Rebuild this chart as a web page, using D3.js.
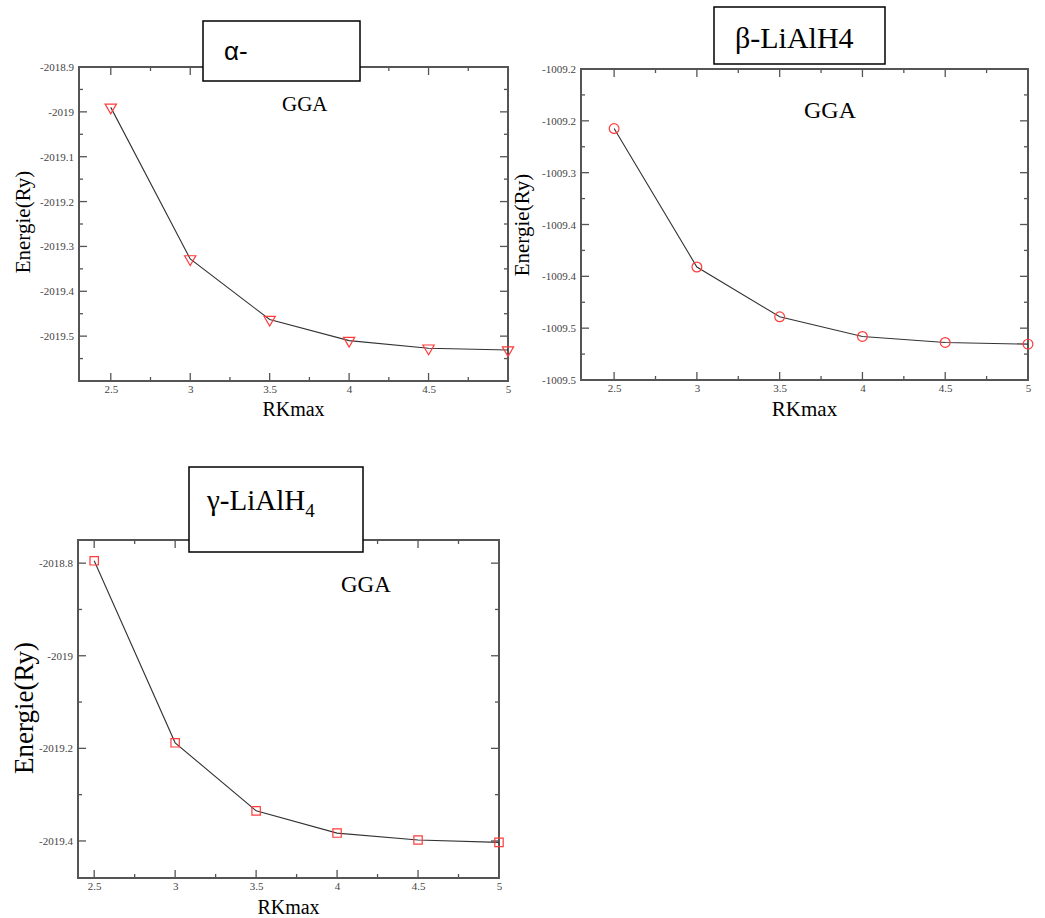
<!DOCTYPE html>
<html>
<head>
<meta charset="utf-8">
<script src="https://cdn.jsdelivr.net/npm/d3@7"></script>
<style>
  body { margin: 0; background: #fff; }
  svg { display: block; }
  .tick text { font-family: "Liberation Serif", "DejaVu Serif", serif; fill: #444; }
</style>
</head>
<body>
<svg id="chart" width="1045" height="918"></svg>
<script>
// RKmax values shared by all three panels
const rkmax = [2.5, 3, 3.5, 4, 4.5, 5];
const xTicks = [2.5, 3, 3.5, 4, 4.5, 5];
const xTickLabels = ["2.5", "3", "3.5", "4", "4.5", "5"];

// alpha-LiAlH4 energies (Ry)
const alphaEnergy = [-2018.99, -2019.328, -2019.463, -2019.51, -2019.527, -2019.531];
const alphaTicks = [-2018.9, -2019.0, -2019.1, -2019.2, -2019.3, -2019.4, -2019.5];
const alphaTickLabels = ["-2018.9", "-2019", "-2019.1", "-2019.2", "-2019.3", "-2019.4", "-2019.5"];

// beta-LiAlH4 energies (Ry)
const betaEnergy = [-1009.2574, -1009.391, -1009.439, -1009.458, -1009.4638, -1009.4654];
const betaTicks = [-1009.2, -1009.25, -1009.3, -1009.35, -1009.4, -1009.45, -1009.5];
const betaTickLabels = ["-1009.2", "-1009.2", "-1009.3", "-1009.4", "-1009.4", "-1009.5", "-1009.5"];

// gamma-LiAlH4 energies (Ry)
const gammaEnergy = [-2018.795, -2019.188, -2019.335, -2019.383, -2019.398, -2019.403];
const gammaTicks = [-2018.8, -2019.0, -2019.2, -2019.4];
const gammaTickLabels = ["-2018.8", "-2019", "-2019.2", "-2019.4"];

const svg = d3.select("#chart");
const serif = "'Liberation Serif', 'DejaVu Serif', serif";

function drawPanel(p) {
  const x = d3.scaleLinear().domain(p.xDomain).range([p.left, p.right]);
  const y = d3.scaleLinear().domain(p.yDomain).range([p.bottom, p.top]);
  const g = svg.append("g");

  // minor + major ticks, inward on all four sides
  const minorX = d3.range(Math.ceil(p.xDomain[0] * 4), Math.floor(p.xDomain[1] * 4) + 1).map((k) => k / 4);
  const yHalf = p.yStep / 2;
  const minorY = d3.range(Math.ceil(p.yDomain[0] / yHalf - 1e-6), Math.floor(p.yDomain[1] / yHalf + 1e-6) + 1).map((k) => k * yHalf);

  const tickG = g.append("g").attr("stroke", "#555").attr("stroke-width", 1.3);
  minorX.forEach((v) => {
    const major = xTicks.some((t) => Math.abs(t - v) < 1e-6);
    const len = major ? 8 : 4;
    if (x(v) <= p.left + 1 || x(v) >= p.right - 1) return;
    tickG.append("line").attr("x1", x(v)).attr("x2", x(v)).attr("y1", p.bottom).attr("y2", p.bottom - len);
    tickG.append("line").attr("x1", x(v)).attr("x2", x(v)).attr("y1", p.top).attr("y2", p.top + len);
  });
  minorY.forEach((v) => {
    if (y(v) <= p.top + 1 || y(v) >= p.bottom - 1) return;
    const major = p.yTicks.some((t) => Math.abs(t - v) < 1e-6);
    const len = major ? 8 : 4;
    tickG.append("line").attr("x1", p.left).attr("x2", p.left + len).attr("y1", y(v)).attr("y2", y(v));
    tickG.append("line").attr("x1", p.right).attr("x2", p.right - len).attr("y1", y(v)).attr("y2", y(v));
  });

  // axes for labels
  const xAxis = d3.axisBottom(x).tickValues(xTicks).tickSize(0).tickPadding(4)
    .tickFormat((d, i) => xTickLabels[i]);
  g.append("g").attr("transform", `translate(0,${p.bottom})`).call(xAxis)
    .call((a) => a.select(".domain").remove())
    .selectAll("text").attr("font-size", p.tickFont);

  const yAxis = d3.axisLeft(y).tickValues(p.yTicks).tickSize(0).tickPadding(5)
    .tickFormat((d, i) => p.yTickLabels[i]);
  g.append("g").attr("transform", `translate(${p.left},0)`).call(yAxis)
    .call((a) => a.select(".domain").remove())
    .selectAll("text").attr("font-size", p.tickFont);

  // frame
  g.append("rect")
    .attr("x", p.left).attr("y", p.top)
    .attr("width", p.right - p.left).attr("height", p.bottom - p.top)
    .attr("fill", "none").attr("stroke", "#555").attr("stroke-width", 2);

  // data line
  const line = d3.line().x((d, i) => x(rkmax[i])).y((d) => y(d));
  g.append("path").datum(p.values).attr("d", line)
    .attr("fill", "none").attr("stroke", "#333").attr("stroke-width", 1.1);

  // markers
  const sym = d3.symbol().type(p.symbol).size(p.symbolSize);
  g.append("g").selectAll("path").data(p.values).join("path")
    .attr("d", sym)
    .attr("transform", (d, i) => `translate(${x(rkmax[i])},${y(d)})${p.symbol === d3.symbolTriangle ? " rotate(180)" : ""}`)
    .attr("fill", "none").attr("stroke", "#ff3b3b").attr("stroke-width", 1.2);

  // annotation + axis titles
  g.append("text").attr("x", p.ggaX).attr("y", p.ggaY)
    .attr("font-family", serif).attr("font-size", p.ggaFont).text("GGA");
  g.append("text").attr("x", (p.left + p.right) / 2 + p.xLabelShift).attr("y", p.xLabelY)
    .attr("text-anchor", "middle").attr("font-family", serif).attr("font-size", p.xLabelFont).text("RKmax");
  g.append("text")
    .attr("transform", `translate(${p.yLabelX},${p.yLabelY}) rotate(-90)`)
    .attr("text-anchor", "middle").attr("font-family", serif).attr("font-size", p.yLabelFont).text("Energie(Ry)");

  // title box
  const b = p.box;
  g.append("rect").attr("x", b.x).attr("y", b.y).attr("width", b.w).attr("height", b.h)
    .attr("fill", "#fff").attr("stroke", "#000").attr("stroke-width", 1.5);
  const t = g.append("text").attr("x", b.tx).attr("y", b.ty)
    .attr("font-family", b.font).attr("font-size", b.size);
  t.append("tspan").text(b.text);
  if (b.sub) t.append("tspan").attr("font-size", b.size * 0.65).attr("dy", b.size * 0.25).text(b.sub);
}

drawPanel({
  left: 79, right: 508, top: 67, bottom: 381,
  xDomain: [2.3, 5], yDomain: [-2019.6, -2018.9],
  yTicks: alphaTicks, yTickLabels: alphaTickLabels, yStep: 0.1,
  values: alphaEnergy, symbol: d3.symbolTriangle, symbolSize: 55,
  tickFont: 11,
  ggaX: 282, ggaY: 111, ggaFont: 21,
  xLabelShift: 0, xLabelY: 416, xLabelFont: 20,
  yLabelX: 30, yLabelY: 222, yLabelFont: 21,
  box: { x: 203, y: 21, w: 157, h: 60, tx: 224, ty: 60, text: "α-", size: 26, font: "'Liberation Sans', Arial, sans-serif" }
});

drawPanel({
  left: 581, right: 1028, top: 69, bottom: 380,
  xDomain: [2.3, 5], yDomain: [-1009.5, -1009.2],
  yTicks: betaTicks, yTickLabels: betaTickLabels, yStep: 0.05,
  values: betaEnergy, symbol: d3.symbolCircle, symbolSize: 75,
  tickFont: 11,
  ggaX: 804, ggaY: 118, ggaFont: 24,
  xLabelShift: 0, xLabelY: 416, xLabelFont: 21,
  yLabelX: 529, yLabelY: 225, yLabelFont: 21,
  box: { x: 714, y: 7, w: 171, h: 57, tx: 735, ty: 48, text: "β-LiAlH4", size: 30, font: serif }
});

drawPanel({
  left: 78, right: 499, top: 540, bottom: 878,
  xDomain: [2.4, 5], yDomain: [-2019.48, -2018.75],
  yTicks: gammaTicks, yTickLabels: gammaTickLabels, yStep: 0.2,
  values: gammaEnergy, symbol: d3.symbolSquare, symbolSize: 70,
  tickFont: 11,
  ggaX: 341, ggaY: 592, ggaFont: 23,
  xLabelShift: 0, xLabelY: 914, xLabelFont: 20,
  yLabelX: 33, yLabelY: 708, yLabelFont: 27,
  box: { x: 189, y: 467, w: 174, h: 85, tx: 207, ty: 510, text: "γ-LiAlH", sub: "4", size: 29, font: serif }
});
</script>
</body>
</html>
